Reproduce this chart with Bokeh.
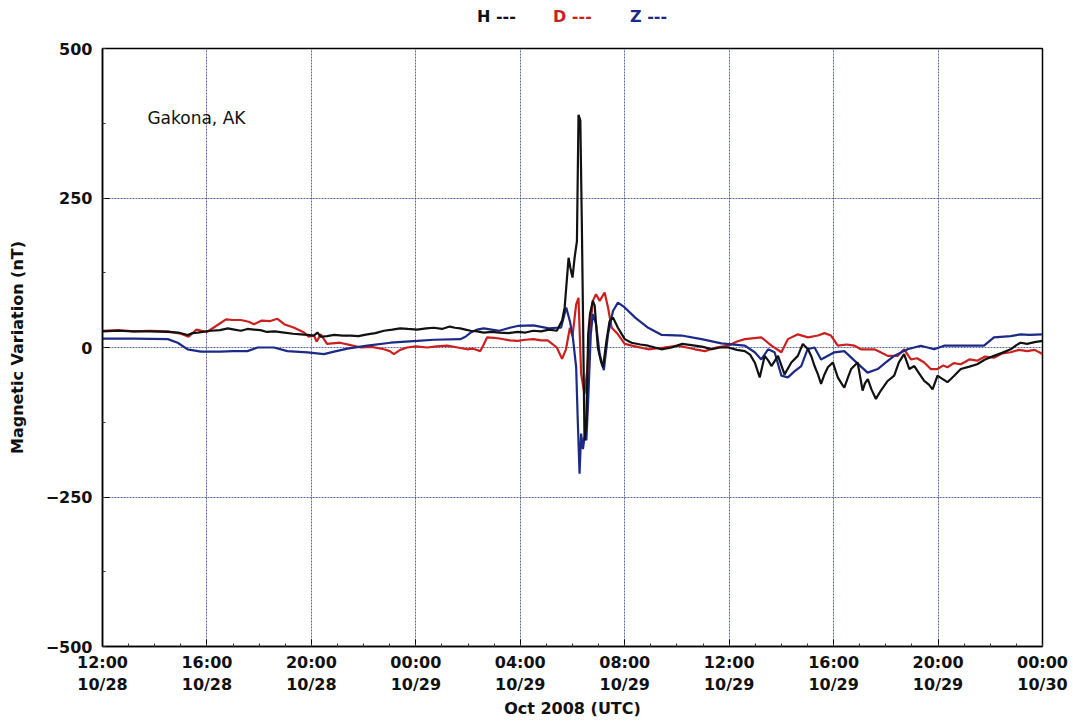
from bokeh.plotting import figure
from bokeh.layouts import column
from bokeh.models import FixedTicker, Label, Range1d, Div
from bokeh.embed import file_html
from bokeh.resources import INLINE

# Hours since 12:00 UTC on 28 Oct 2008, magnetometer variation in nT
H_TRACE = [
    (0, 27), (0.6, 28), (1.2, 27), (1.8, 27), (2.5, 26), (2.9, 25), (3.26, 21), (3.45, 24),
    (3.64, 25), (4.15, 28), (4.5, 29), (4.8, 32), (5.05, 30), (5.3, 28), (5.55, 31), (5.8, 30),
    (6.05, 29), (6.3, 26), (6.6, 27), (6.96, 25), (7.3, 23), (7.6, 22), (7.85, 21), (8.1, 20),
    (8.23, 25), (8.36, 18), (8.6, 19), (8.87, 21), (9.2, 20), (9.5, 20), (9.8, 19), (10.14, 22),
    (10.45, 24), (10.78, 28), (11.1, 30), (11.4, 32), (11.7, 31), (12.05, 30), (12.4, 32),
    (12.69, 33), (13.0, 31), (13.3, 35), (13.5, 33), (13.7, 32), (13.9, 30), (14.1, 28),
    (14.35, 27), (14.6, 25), (14.9, 26), (15.2, 25), (15.55, 24), (15.9, 26), (16.2, 25),
    (16.5, 28), (16.8, 27), (17.1, 30), (17.4, 28), (17.6, 45), (17.7, 67), (17.85, 150),
    (17.92, 133), (18.0, 117), (18.08, 150), (18.17, 178), (18.23, 389), (18.3, 380),
    (18.36, 200), (18.4, 60), (18.46, -155), (18.53, -130), (18.6, 22), (18.67, 56),
    (18.78, 78), (18.85, 70), (18.97, 0), (19.1, -25), (19.17, -33), (19.3, 11), (19.42, 44),
    (19.55, 50), (19.74, 33), (20.0, 14), (20.26, 8), (20.6, 5), (20.9, 3), (21.4, -3),
    (21.8, 0), (22.2, 6), (22.69, 3), (23.0, 1), (23.33, -3), (23.65, 0), (23.96, 0),
    (24.3, -4), (24.6, -6), (24.8, -12), (24.98, -25), (25.17, -50), (25.36, -14), (25.5, -22),
    (25.62, -31), (25.87, -14), (26.0, -30), (26.12, -45), (26.25, -35), (26.38, -25),
    (26.63, -14), (26.82, 6), (27.02, -3), (27.15, -15), (27.27, -31), (27.4, -45), (27.52, -61),
    (27.65, -45), (27.78, -33), (27.97, -25), (28.16, -50), (28.3, -60), (28.41, -67),
    (28.55, -50), (28.67, -36), (28.92, -25), (29.11, -72), (29.2, -60), (29.31, -53),
    (29.45, -70), (29.62, -86), (29.81, -72), (30.07, -56), (30.32, -47), (30.5, -25),
    (30.7, -11), (30.9, -36), (31.09, -31), (31.3, -45), (31.47, -56), (31.65, -62), (31.79, -70),
    (31.98, -47), (32.15, -52), (32.36, -58), (32.6, -48), (32.87, -36), (33.2, -32), (33.5, -28),
    (33.8, -20), (34.14, -14), (34.45, -9), (34.78, -3), (35.0, 4), (35.16, 8), (35.41, 6),
    (35.7, 9), (36.0, 11),
]

D_TRACE = [
    (0, 28), (0.6, 29), (1.2, 27), (1.8, 28), (2.5, 27), (3.0, 23), (3.3, 18), (3.6, 30),
    (4.0, 26), (4.35, 36), (4.73, 47), (5.0, 46), (5.3, 46), (5.6, 43), (5.8, 39), (6.1, 45),
    (6.4, 44), (6.7, 48), (6.96, 39), (7.34, 33), (7.72, 25), (7.9, 18), (8.1, 20), (8.2, 10),
    (8.36, 22), (8.6, 6), (9.1, 8), (9.5, 4), (9.9, 0), (10.3, 1), (10.78, -3), (11.0, -6),
    (11.16, -11), (11.4, -4), (11.67, 0), (12.0, 2), (12.43, 0), (12.8, 2), (13.2, 3), (13.6, 0),
    (13.96, -3), (14.2, -2), (14.47, -6), (14.6, 5), (14.73, 17), (15.0, 16), (15.2, 15),
    (15.6, 12), (15.9, 11), (16.2, 13), (16.5, 14), (16.8, 12), (17.05, 12), (17.4, 0),
    (17.6, -19), (17.75, -3), (17.9, 33), (18.0, 19), (18.14, 72), (18.23, 83), (18.33, -44),
    (18.46, -78), (18.56, -39), (18.65, 22), (18.78, 78), (18.9, 89), (19.04, 78), (19.23, 92),
    (19.36, 67), (19.5, 33), (19.74, 22), (20.0, 6), (20.4, 2), (20.9, -3), (21.5, 0),
    (22.05, 3), (22.69, -3), (23.07, -6), (23.5, 0), (23.96, 3), (24.3, 10), (24.6, 14),
    (25.23, 17), (25.62, 3), (26.0, -8), (26.25, 14), (26.63, 22), (27.02, 17), (27.4, 20),
    (27.65, 24), (27.9, 20), (28.16, 3), (28.5, 5), (28.8, 3), (29.05, -3), (29.56, -3),
    (29.8, -8), (30.07, -14), (30.45, -14), (30.7, -3), (30.96, -20), (31.2, -18), (31.47, -25),
    (31.72, -36), (31.98, -36), (32.2, -30), (32.36, -33), (32.6, -26), (32.87, -28),
    (33.2, -20), (33.5, -22), (33.8, -15), (34.14, -17), (34.45, -10), (34.78, -8), (35.1, -4),
    (35.41, -6), (35.7, -4), (36.0, -11),
]

Z_TRACE = [
    (0, 15), (1.2, 15), (2.5, 14), (2.88, 8), (3.26, -3), (3.77, -7), (4.5, -7), (5.0, -6),
    (5.55, -6), (5.94, 0), (6.57, 0), (7.08, -6), (7.85, -8), (8.48, -11), (8.87, -7),
    (9.38, -2), (10.14, 3), (11.03, 8), (12.05, 11), (12.69, 13), (13.7, 14), (13.9, 18),
    (14.1, 25), (14.35, 30), (14.6, 32), (14.9, 30), (15.2, 28), (15.6, 33), (15.9, 36),
    (16.5, 37), (17.1, 32), (17.4, 33), (17.56, 33), (17.76, 67), (17.9, 44), (18.0, 22),
    (18.14, -33), (18.2, -120), (18.27, -211), (18.33, -144), (18.4, -170), (18.46, -150),
    (18.53, -155), (18.6, -89), (18.7, 22), (18.78, 56), (18.9, 40), (19.04, -11), (19.2, -38),
    (19.36, 22), (19.55, 61), (19.74, 75), (20.0, 67), (20.4, 50), (20.9, 33), (21.42, 21),
    (22.18, 20), (22.94, 14), (23.7, 7), (24.6, 3), (24.98, -8), (25.23, -20), (25.49, -3),
    (25.74, -8), (26.0, -47), (26.25, -50), (26.5, -40), (26.76, -31), (27.0, -3), (27.27, 0),
    (27.52, -20), (28.03, -8), (28.41, -6), (28.8, -22), (29.3, -42), (29.69, -36), (30.0, -25),
    (30.32, -14), (30.83, -3), (31.34, 3), (31.85, -3), (32.23, 3), (32.87, 3), (33.76, 3),
    (34.14, 17), (34.78, 19), (35.16, 22), (35.5, 21), (36.0, 22),
]

TICK_HOURS = [0, 4, 8, 12, 16, 20, 24, 28, 32, 36]
TICK_LABELS = ["12:00\n10/28", "16:00\n10/28", "20:00\n10/28", "00:00\n10/29", "04:00\n10/29",
               "08:00\n10/29", "12:00\n10/29", "16:00\n10/29", "20:00\n10/29", "00:00\n10/30"]
Y_TICKS = [-500, -250, 0, 250, 500]
Y_LABELS = ["\u2212500", "\u2212250", "0", "250", "500"]

SERIES = [("H", H_TRACE, "#111111"), ("D", D_TRACE, "#cc1f1f"), ("Z", Z_TRACE, "#1b2a86")]

FONT = "DejaVu Sans"
KEY_H = 40

p = figure(frame_width=940, frame_height=598,
           x_range=Range1d(0, 36), y_range=Range1d(-500, 500),
           output_backend="svg", toolbar_location=None,
           min_border_left=102, min_border_right=31, min_border_top=48 - KEY_H,
           min_border_bottom=75,
           background_fill_color="white", border_fill_color="white")

p.outline_line_color = "black"
p.outline_line_width = 1.5

xticker = FixedTicker(ticks=TICK_HOURS, minor_ticks=list(range(0, 37)))
yticker = FixedTicker(ticks=Y_TICKS, minor_ticks=list(range(-500, 501, 125)))

xax = p.xaxis[0]
xax.ticker = xticker
xax.major_label_overrides = dict(zip(TICK_HOURS, TICK_LABELS))
xax.axis_label = "Oct 2008 (UTC)"
yax = p.yaxis[0]
yax.ticker = yticker
yax.major_label_overrides = dict(zip(Y_TICKS, Y_LABELS))
yax.axis_label = "Magnetic Variation (nT)"

for ax in (xax, yax):
    ax.major_tick_in = 7
    ax.major_tick_out = 0
    ax.minor_tick_in = 3
    ax.minor_tick_out = 0
    ax.axis_line_width = 1.5
    ax.axis_line_color = "black"
    ax.major_tick_line_color = "black"
    ax.minor_tick_line_color = "#333333"
    ax.major_label_text_font = FONT
    ax.major_label_text_font_size = "16px"
    ax.major_label_text_font_style = "bold"
    ax.major_label_text_color = "#111111"
    ax.axis_label_text_font = FONT
    ax.axis_label_text_font_size = "16px"
    ax.axis_label_text_font_style = "bold"
    ax.axis_label_text_color = "#111111"

xax.major_label_standoff = 6
xax.axis_label_standoff = 2
yax.major_label_standoff = 10
yax.axis_label_standoff = 16

p.xgrid.ticker = xticker
p.ygrid.ticker = yticker
p.grid.grid_line_color = "#34447e"
p.grid.grid_line_alpha = 0.8
p.grid.grid_line_width = 1
p.grid.grid_line_dash = "2 1"

for name, trace, color in [SERIES[1], SERIES[2], SERIES[0]]:
    hours = [t for t, _ in trace]
    nt = [v for _, v in trace]
    p.line(hours, nt, line_color=color, line_width=2.2)

p.add_layout(Label(x=1.72, y=383, text="Gakona, AK", text_font=FONT, text_font_size="17px",
                   text_color="#111111", text_baseline="middle"))

# series key in a strip above the frame
key_left = {"H": 477, "D": 553, "Z": 630}
spans = "".join(
    f'<span style="position:absolute;left:{key_left[name]}px;top:7px;line-height:20px;'
    f'color:{color};">{name} ---</span>'
    for name, _, color in SERIES
)
key = Div(
    text=f'<div style="position:relative;width:1073px;height:{KEY_H}px;'
         f'font-family:\'{FONT}\';font-size:16px;font-weight:bold;">{spans}</div>',
    width=1073, height=KEY_H, margin=0,
    styles={"background-color": "white"},
)

layout = column(key, p, spacing=0)
open("out.html", "w").write(file_html(layout, INLINE))
